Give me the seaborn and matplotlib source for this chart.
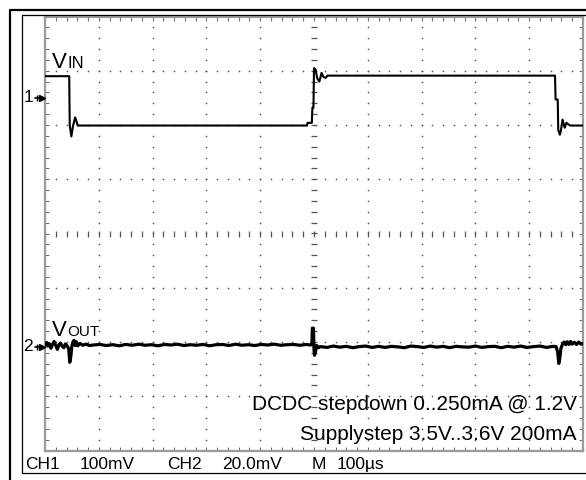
import numpy as np
import matplotlib
matplotlib.use("Agg")
import matplotlib.pyplot as plt
from matplotlib.lines import Line2D
import seaborn as sns

# scope settings
time_per_div = 100      # us
ch1_per_div = 100       # mV
ch2_per_div = 20        # mV
ch1_ref = 2.5           # marker "1" position in divisions
ch2_ref = -2.09         # marker "2" position in divisions

# CH1 = VIN, time in us, mV relative to marker 1
vin_t = [0, 45, 46, 49, 52, 56, 61, 487, 488, 496, 497, 499, 500, 503, 506, 510,
         514, 518, 522, 525, 948, 949, 953, 954, 957, 959, 962, 966, 969, 976, 1000]
vin_mv = [40, 40, -51, -71, -52, -36, -51, -51, -46, -46, -18, -18, 55, 52, 36, 30,
          46, 38, 37, 41, 41, -3, -3, -59, -68, -60, -40, -55, -46, -51, -51]

# CH2 = VOUT, time in us, mV relative to marker 2
vout_t = [0, 3, 5, 8, 11, 14, 17, 20, 23, 26, 29, 32, 35, 38, 41, 44,
          46, 48, 50, 52, 54, 56, 58, 61, 65, 70, 76, 83,
          90, 102, 114, 126, 138, 150, 162, 174, 186, 198, 210, 222, 234, 246, 258, 270, 282,
          294, 306, 318, 330, 342, 354, 366, 378, 390, 402, 414, 426, 438, 450, 462, 474, 486,
          493, 496, 497, 499, 500, 501, 503, 505, 508,
          512, 524, 536, 548, 560, 572, 584, 596, 608, 620, 632, 644, 656, 668, 680, 692, 704,
          716, 728, 740, 752, 764, 776, 788, 800, 812, 824, 836, 848, 860, 872, 884, 896, 908,
          920, 932, 944,
          950, 953, 955, 957, 959, 962, 965, 968, 971, 974, 977, 980, 984, 988, 992, 996, 1000]
vout_mv = [0.6, 1.6, 0.3, 1.2, -0.5, 0.9, 2.0, 0.5, -0.9, 0.8, 1.4, 0.2, -0.3, 1.1, 0.4, -0.6,
           -5.7, -3.5, 0.4, 1.8, 2.4, 0.5, 1.9, 0.4, 1.3, 0.6, 1.0, 0.5,
           0.7, 0.9, 0.5, 0.8, 0.4, 0.9, 0.6, 1.0, 0.6, 0.8, 0.4, 0.9, 0.7, 1.0, 0.5, 0.8, 0.6,
           0.9, 0.4, 0.8, 0.9, 0.5, 1.0, 0.6, 0.8, 0.5, 0.9, 0.7, 1.0, 0.6, 0.8, 0.9, 0.6, 0.9,
           0.7, 0.8, 6.9, 6.9, -1.0, -3.1, -1.5, 0.5, -0.3,
           0.1, -0.2, 0.3, -0.1, 0.2, -0.3, 0.1, 0.3, -0.2, 0.2, -0.2, 0.2, 0.0, -0.3, 0.3, 0.1, -0.2,
           0.3, -0.1, 0.2, -0.3, 0.2, 0.0, -0.1, 0.3, -0.2, 0.1, 0.2, -0.3, 0.2, -0.1, 0.3, -0.2, 0.1,
           0.3, -0.2, 0.2,
           0.1, -2.0, -6.1, -4.0, -0.5, 1.0, 1.8, 0.8, 1.9, 0.9, 2.0, 1.0, 1.7, 0.9, 1.8, 1.0, 1.2]

caption_1 = "DCDC stepdown 0..250mA @ 1.2V"
caption_2 = "Supplystep 3.5V..3.6V 200mA"
status = [("CH1", 25), ("100mV", 80), ("CH2", 167), ("20.0mV", 222), ("M", 312), ("100\u00b5s", 337)]

sns.set_theme(style="white")
plt.rcParams['font.family'] = ['Liberation Sans', 'DejaVu Sans']

W, H = 586, 480
fig = plt.figure(figsize=(W / 100, H / 100), dpi=100)
fig.patch.set_facecolor("white")

# screen area in pixels
gx0, gx1, gy0, gy1 = 45, 583, 16.5, 450.5
ax = fig.add_axes([gx0 / W, 1 - gy1 / H, (gx1 - gx0) / W, (gy1 - gy0) / H])
ax.set_xlim(0, 10 * time_per_div)
ax.set_ylim(-4, 4)
ax.set_facecolor("white")

# graticule dots
dot_y = np.arange(-4, 4.01, 0.2)
dot_x = np.arange(0, 10 * time_per_div + 1, time_per_div / 5)
for i in range(1, 10):
    xx = i * time_per_div
    if i == 5:
        ax.plot([xx] * len(dot_y), dot_y, ls="none", marker="_", ms=4, mew=0.9, color="#555555", zorder=1)
    else:
        ax.plot([xx] * len(dot_y), dot_y, ls="none", marker="o", ms=1.2, mew=0, color="#555555", zorder=1)
for j in range(-3, 4):
    if j == 0:
        ax.plot(dot_x, [0] * len(dot_x), ls="none", marker="|", ms=4, mew=0.9, color="#555555", zorder=1)
    else:
        ax.plot(dot_x, [j] * len(dot_x), ls="none", marker="o", ms=1.2, mew=0, color="#555555", zorder=1)

for s in ax.spines.values():
    s.set_color("#9a9a9a")
    s.set_linewidth(1.6)
ax.set_xticks(np.arange(0, 10 * time_per_div + 1, time_per_div))
ax.set_xticks(dot_x, minor=True)
ax.set_yticks(np.arange(-4, 5, 1))
ax.set_yticks(dot_y, minor=True)
ax.tick_params(which="both", direction="in", length=3, width=0.8, color="#707070",
               top=True, right=True, bottom=True, left=True,
               labelbottom=False, labelleft=False)
ax.set_xlabel("")
ax.set_ylabel("")

# traces
vin_div = np.array(vin_mv) / ch1_per_div + ch1_ref
vout_div = np.array(vout_mv) / ch2_per_div + ch2_ref
sns.lineplot(x=vin_t, y=vin_div, ax=ax, color="black", linewidth=1.5,
             estimator=None, sort=False, zorder=3)
sns.lineplot(x=vout_t, y=vout_div, ax=ax, color="black", linewidth=2.3,
             estimator=None, sort=False, zorder=3)
ax.set_xlim(0, 10 * time_per_div)
ax.set_ylim(-4, 4)

# channel markers
for lab, ref in [("1", ch1_ref), ("2", ch2_ref)]:
    ax.plot([-19, -4], [ref, ref], color="black", lw=1.2, clip_on=False, zorder=4)
    ax.plot([-6], [ref], marker=">", ms=4.5, color="black", clip_on=False, zorder=4)
    ax.plot([-15], [ref], marker="|", ms=4, mew=1, color="black", clip_on=False, zorder=4)
    ax.text(-22, ref, lab, ha="right", va="center", fontsize=12.5, color="black")


def px_text(x, y, s, **kw):
    fig.text(x / W, 1 - y / H, s, va="baseline", color="black", **kw)


px_text(52, 68, "V", fontsize=16)
px_text(67.5, 68, "IN", fontsize=12)
px_text(52, 336, "V", fontsize=16)
px_text(67, 336, "OUT", fontsize=11)

px_text(577, 410, caption_1, fontsize=15, ha="right")
px_text(577, 440, caption_2, fontsize=15, ha="right")

for s, x in status:
    px_text(x, 469, s, fontsize=12.5)

# instrument frame
fig.add_artist(Line2D([10 / W, 10 / W, 1], [0, 1 - 10 / H, 1 - 10 / H],
                      transform=fig.transFigure, color="black", lw=1.6))
fig.add_artist(Line2D([1, 22 / W, 22 / W, 1], [1 - 15 / H, 1 - 15 / H, 1 - 473 / H, 1 - 473 / H],
                      transform=fig.transFigure, color="black", lw=0.9))

fig.savefig("out.png", dpi=100)
